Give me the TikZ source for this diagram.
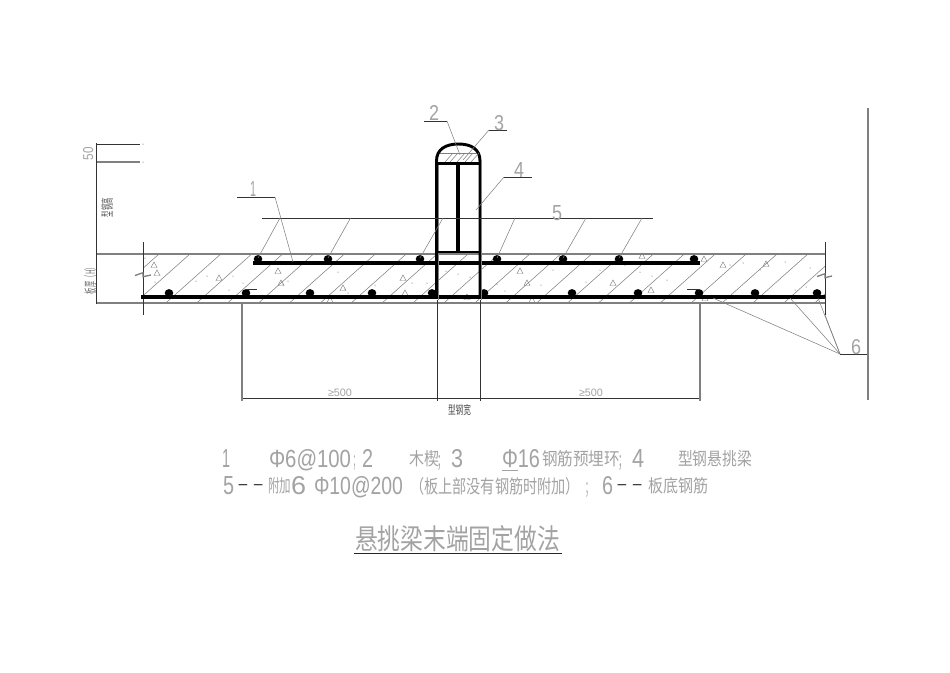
\documentclass[tikz,border=0pt]{standalone}
\usepackage{fontspec}
\usepackage{graphicx}
\setmainfont{Liberation Sans}
\newfontfamily\cjk{Noto Sans CJK SC}
\definecolor{txt}{gray}{0.64}
\definecolor{ln}{gray}{0.5}
\newlength\mywd \newlength\myht
\newcommand\lab[7][0]{\setlength\mywd{#5pt}\setlength\mywd{.75\mywd}\setlength\myht{#6pt}\setlength\myht{.75\myht}%
 \node[lbl,rotate=#1] (#2) at (#3,#4) {\resizebox{\mywd}{\myht}{#7}};}
\tikzset{
 lbl/.style={anchor=base west,inner sep=0pt,outer sep=0pt,text=txt},
 thin line/.style={draw=ln,line width=.4pt},
 black line/.style={draw=black!80,line width=.55pt},
 gray line/.style={draw=gray,line width=.8pt},
 rebar/.style={draw=black,line width=2.3pt},
 steel/.style={draw=black,line width=2.2pt},
 tri/.style={draw=gray,line width=.35pt},
 breakmark/.style={draw=gray,line width=1pt},
}
\begin{document}
\begin{tikzpicture}[x=.75pt,y=-.75pt]
\useasboundingbox (0,0) rectangle (950,672);
\fill[white] (0,0) rectangle (950,672);
% hatching
\begin{scope}
\clip (143,254) rectangle (825,303);
\foreach \k in {0,...,23}{
  \pgfmathsetmacro\bx{104+30.9*\k}
  \draw[thin line] (\bx,303) -- (\bx+55,254);
}
\end{scope}
% aggregate triangles
\foreach \x/\y in {154/265,157/273,219/278,278/271,281/283,343/288,330/300,403/278,405/293,520/271,527/283,467/297,532/300,613/283,651/290,704/259,723/265,766/264,705/298,642/256}{
  \draw[tri] (\x-3,\y+2.5) -- (\x+3,\y+2.5) -- (\x,\y-3) -- cycle;
}
\foreach \x/\y in {145/258,155/282,196/281,207/276,233/276,243/283,229/290,283/284,288/281,338/272,345/289,348/293,375/285,387/296,412/283,427/283,446/271,497/284,458/274,470/277,505/291,541/285,553/270,586/282,600/270,625/265,640/272,652/276,667/280,730/265,743/263,760/270,785/262,810/268,795/290,806/287}{
  \fill[black!70] (\x,\y) circle (.5);
}
% slab outline
\draw[gray line] (143,254) -- (825,254);
\draw[gray line] (96,303) -- (825,303);
\draw[gray line] (96,254) -- (143,254);
% break lines
\draw[black line] (143,242) -- (143,315);
\draw[breakmark] (135,275.5) -- (143,272.7) -- (143,276.7) -- (151,275);
\draw[black line] (825,242) -- (825,315);
\draw[breakmark] (817,276.5) -- (825,273.7) -- (825,277.7) -- (832,276);
% rebars
\coordinate (ubL) at (253,263); \coordinate (ubR) at (700,263);
\coordinate (lbL) at (141,297); \coordinate (lbR) at (825,297);
\draw[rebar] (ubL) -- (ubR);
\draw[rebar] (lbL) -- (lbR);
\foreach \n/\x in {1/258,2/328,3/420,4/497,5/563,6/619,7/694}{
  \coordinate (u\n) at (\x,258);
  \fill[black] (\x,259) ellipse (4.3 and 3.9);
}
\foreach \n/\x in {1/169,2/246,3/310,4/372,5/432,6/484,7/572,8/638,9/699,10/755,11/817}{
  \coordinate (d\n) at (\x,293);
  \fill[black] (\x,293) ellipse (4.3 and 3.9);
}
\draw[black line] (246,289) -- (257,289);
\draw[black line] (687,289) -- (700,289);
% stirrup and I-beam
\draw[steel] (436.5,297) -- (436.5,161) .. controls (436.5,149) and (446,144) .. (458.5,144) .. controls (471,144) and (480,149) .. (480,161) -- (480,297);
\draw[thin line] (481.7,160) -- (481.7,300);
\draw[thin line] (438.5,165) -- (438.5,300);
\draw[steel] (436,163.5) -- (480,163.5);
\draw[draw=black,line width=2.6pt] (458,163) -- (458,252);
\draw[steel] (436,252) -- (480,252);
% wood block
\draw[thin line] (440,153) -- (477,153);
\foreach \x in {445,450,457,465,471}{\draw[thin line] (\x,162) -- (\x+8,153);}
% leaders 5
\coordinate (l5a) at (262,218); \coordinate (l5b) at (653,218);
\draw[black line] (l5a) -- (l5b);
\foreach \n/\x in {1/280,2/350.5,3/443,4/515,5/586,6/642}{
  \coordinate (t\n) at (\x,218);
  \draw[thin line] (t\n) -- (u\n);
}
% leader 1
\coordinate (l1a) at (237,197); \coordinate (l1b) at (275,197); \coordinate (l1c) at (293,262);
\draw[black line] (l1a) -- (l1b);
\draw[thin line] (l1b) -- (l1c);
% leader 2
\coordinate (l2a) at (424,121); \coordinate (l2b) at (447,121); \coordinate (l2c) at (460,155);
\draw[black line] (l2a) -- (l2b);
\draw[thin line] (l2b) -- (l2c);
% leader 3
\coordinate (l3a) at (507,130); \coordinate (l3b) at (489,130); \coordinate (l3c) at (463,160);
\draw[black line] (l3a) -- (l3b);
\draw[thin line] (l3b) -- (l3c);
% leader 4
\coordinate (l4a) at (532,177); \coordinate (l4b) at (504,177); \coordinate (l4c) at (476,210);
\draw[black line] (l4a) -- (l4b);
\draw[thin line] (l4b) -- (l4c);
% leader 6
\coordinate (l6a) at (868,354); \coordinate (l6b) at (840,354);
\coordinate (e1) at (713,298); \coordinate (e2) at (790,298); \coordinate (e3) at (818,298); \coordinate (e4) at (825,315);
\draw[black line] (l6a) -- (l6b);
\foreach \e in {e1,e2,e3,e4}{\draw[thin line] (l6b) -- (\e);}
\draw[gray line] (868,108) -- (868,400);
% left dimensions
\draw[black line] (96,144) -- (140,144);
\draw[draw=gray,line width=1.1pt] (96,162) -- (140,162);
\draw[black line] (96,143) -- (96,304);
\foreach \y in {144,162}{\fill[black!70] (143,\y) circle (.5);}
% bottom dimensions
\draw[black line] (241,398.5) -- (701,398.5);
\draw[gray line] (242,303) -- (242,401);
\draw[gray line] (700,303) -- (700,401);
\draw[black line] (437,300) -- (437,401);
\draw[black line] (480,300) -- (480,401);
% labels
\lab{n1}{250}{196}{6}{15}{1}
\lab{n2}{429}{120}{10}{15}{2}
\lab{n3}{494}{130}{10}{15}{3}
\lab{n4}{514}{177}{10}{15}{4}
\lab{n5}{552}{220}{10}{15}{5}
\lab{n6}{851}{354}{10}{15}{6}
\lab{ge1}{328}{396.5}{24}{7.5}{≥500}
\lab{ge2}{579}{396.5}{24}{7.5}{≥500}
\lab{w}{448}{414}{23}{10}{\color{black!70}\cjk 型钢宽}
\lab[90]{d50}{93}{160}{13}{10}{50}
\lab[90]{hb}{112}{217}{19}{11}{\color{black!65}\cjk 型钢高}
\lab[90]{hh}{95}{294}{30}{11}{\color{black!55}\cjk 板厚（H）}
% note line 1
\lab{a1}{222}{467}{8}{18}{1}
\lab{a2}{269}{467}{82}{18}{Φ6@100}
\lab{a3}{353}{467}{6}{12}{\cjk ；}
\lab{a4}{362}{467}{11}{18}{2}
\lab{a5}{409}{465}{30}{15}{\cjk 木楔}
\lab{a6}{437}{467}{9}{12}{\cjk ；}
\lab{a7}{451}{467}{12}{18}{3}
\lab{a8}{502}{467}{38}{18}{\underline{Φ}16}
\lab{a9}{542}{465}{78}{15}{\cjk 钢筋预埋环}
\lab{a10}{618}{467}{9}{12}{\cjk ；}
\lab{a11}{632}{467}{12}{18}{4}
\lab{a12}{678}{465}{74}{15}{\cjk 型钢悬挑梁}
% note line 2
\lab{b1}{223}{494}{11}{18}{5}
\lab{b1d}{237}{489}{27}{5}{\color{black!75}-\kern1pt-}
\lab{b2}{268}{492}{23}{15}{\cjk 附加}
\lab{b3}{291}{494}{15}{18}{6}
\lab{b4}{314}{494}{89}{18}{Φ10@200}
\lab{b5}{410}{493}{170}{16}{\cjk （板上部没有钢筋时附加）}
\lab{b6}{585}{494}{8}{12}{\cjk ；}
\lab{b7}{602}{494}{11}{18}{6}
\lab{b7d}{616}{489}{27}{5}{\color{black!75}-\kern1pt-}
\lab{b8}{648}{492}{60}{15}{\cjk 板底钢筋}
% title
\lab{tt}{355}{549}{205}{24}{\cjk 悬挑梁末端固定做法}
\draw[draw=black!85,line width=1.2pt] (tt.base west) ++(-1,4.5) -- ++(208,0);
\end{tikzpicture}
\end{document}
